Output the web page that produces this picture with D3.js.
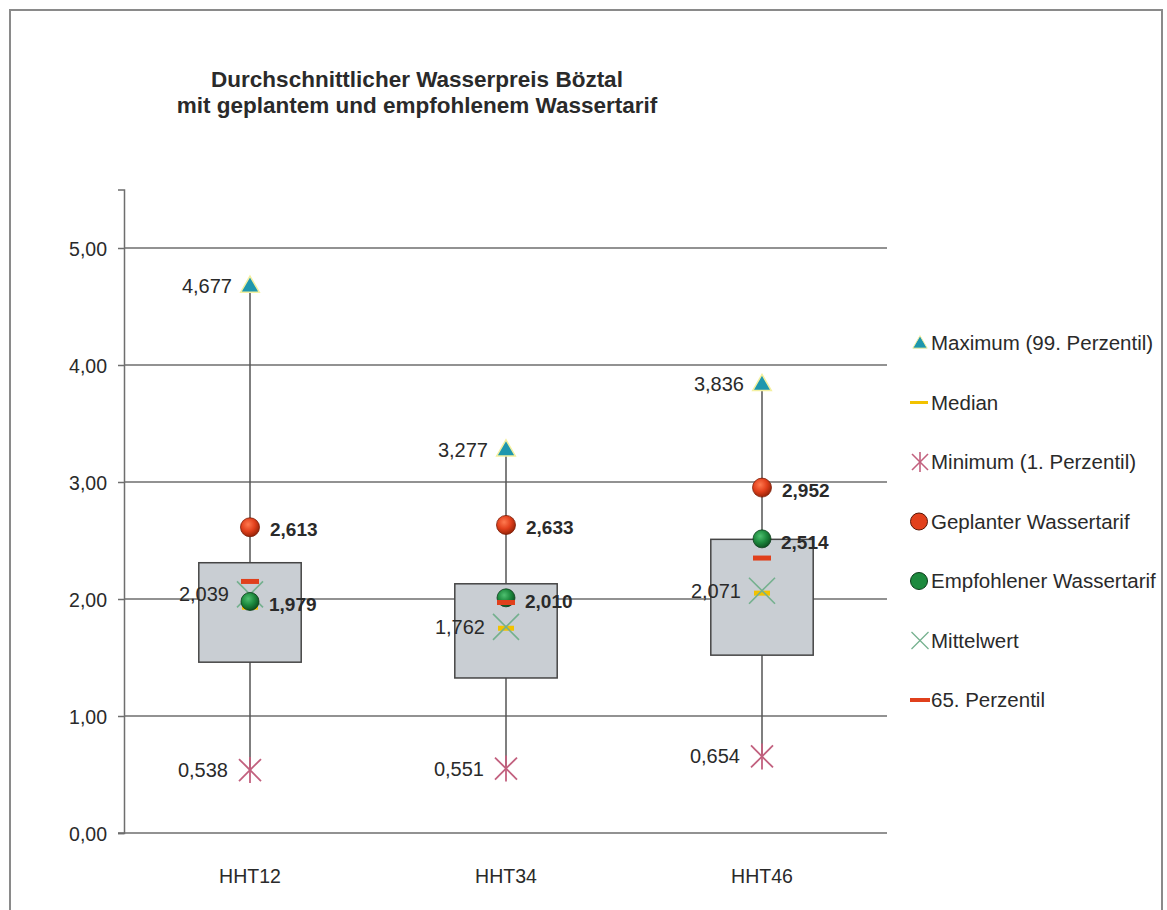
<!DOCTYPE html>
<html>
<head>
<meta charset="utf-8">
<script src="https://cdn.jsdelivr.net/npm/d3@7"></script>
<style>
  body { margin: 0; background: #fff; }
  svg { display: block; font-family: 'Liberation Sans', Arial, sans-serif; }
</style>
</head>
<body>
<div id="chart"></div>
<script>
const WIDTH  = 1167;
const HEIGHT = 910;

// Data
const categories  = ['HHT12', 'HHT34', 'HHT46'];
const maximum     = [4.677, 3.277, 3.836];
const minimum     = [0.538, 0.551, 0.654];
const quart3      = [2.31, 2.13, 2.51];
const quart1      = [1.46, 1.325, 1.52];
const median      = [1.93, 1.75, 2.05];
const mean        = [2.039, 1.762, 2.071];
const perc65      = [2.15, 1.97, 2.35];
const planned     = [2.613, 2.633, 2.952];
const recommended = [1.979, 2.010, 2.514];
const yTicks      = [0, 1, 2, 3, 4, 5];
const legendNames = [
  'Maximum (99. Perzentil)',
  'Median',
  'Minimum (1. Perzentil)',
  'Geplanter Wassertarif',
  'Empfohlener Wassertarif',
  'Mittelwert',
  '65. Perzentil'
];

const COLORS = {
  grid:    '#6e6e6e',
  box:     '#c9ced3',
  boxLine: '#454545',
  text:    '#2a2a2a',
  max:     '#1f97ae',
  median:  '#f2c200',
  min:     '#c2607e',
  planned: '#e2401c',
  recomm:  '#1d8a3e',
  mean:    '#74b08e',
  p65:     '#e0401c'
};

const FONT = "'Liberation Sans', Arial, sans-serif";
const fmt = v => d3.format('.3f')(v).replace('.', ',');
const fmtTick = v => d3.format('.2f')(v).replace('.', ',');

var svg = d3.select('#chart').append('svg')
  .attr('width', WIDTH)
  .attr('height', HEIGHT);

// Gradients for the spheres
var defs = svg.append('defs');
function sphere(id, light, base, dark) {
  let g = defs.append('radialGradient')
    .attr('id', id)
    .attr('cx', '40%').attr('cy', '35%').attr('r', '65%');
  g.append('stop').attr('offset', '0%').attr('stop-color', light);
  g.append('stop').attr('offset', '55%').attr('stop-color', base);
  g.append('stop').attr('offset', '100%').attr('stop-color', dark);
}
sphere('gPlanned', '#ff7a50', COLORS.planned, '#9a2408');
sphere('gRecomm', '#4fc070', COLORS.recomm, '#0d5322');

// Outer frame
svg.append('path')
  .attr('d', `M10,${HEIGHT} V10 H1162 V${HEIGHT}`)
  .style('fill', 'none')
  .style('stroke', '#8a8a8a')
  .style('stroke-width', 2);

// Title
let title = svg.append('text')
  .attr('text-anchor', 'middle')
  .style('font-size', '22.5px').style('font-weight', 'bold')
  .style('fill', COLORS.text);
title.append('tspan').attr('x', 417).attr('y', 87)
  .text('Durchschnittlicher Wasserpreis Böztal');
title.append('tspan').attr('x', 417).attr('y', 113)
  .text('mit geplantem und empfohlenem Wassertarif');

var x = d3.scaleBand()
  .domain(categories)
  .range([122, 890]);
var y = d3.scaleLinear()
  .domain([0, 5.5])
  .range([833, 189.5]);

// Gridlines
svg.append('g')
  .selectAll('line')
  .data(yTicks.filter(d => d > 0))
  .join('line')
    .attr('x1', 124).attr('x2', 887)
    .attr('y1', d => y(d)).attr('y2', d => y(d))
    .style('stroke', COLORS.grid)
    .style('stroke-width', 1.5);

// Y axis
var yAxis = svg.append('g')
  .attr('transform', 'translate(124,0)')
  .call(d3.axisLeft(y).tickValues(yTicks).tickSize(6).tickFormat(fmtTick));
yAxis.select('.domain').style('stroke', COLORS.grid).style('stroke-width', 1.5);
yAxis.selectAll('.tick line').style('stroke', COLORS.grid).style('stroke-width', 1.5);
yAxis.selectAll('.tick text')
  .attr('x', -17)
  .attr('dy', '0.36em')
  .style('font-size', '19.5px')
  .style('font-family', FONT)
  .style('fill', COLORS.text);

// X axis
var xAxis = svg.append('g')
  .attr('transform', 'translate(0,833)')
  .call(d3.axisBottom(x).tickSize(0).tickPadding(0));
xAxis.select('.domain')
  .attr('d', 'M118,0H887')
  .style('stroke', COLORS.grid).style('stroke-width', 1.5);
xAxis.selectAll('.tick text')
  .attr('dy', 0).attr('y', 50)
  .style('font-size', '19.5px')
  .style('font-family', FONT)
  .style('fill', COLORS.text);

const cx = i => x(categories[i]) + x.bandwidth() / 2;
const boxW = x.bandwidth() * 0.4;
const idx = d3.range(categories.length);

var plot = svg.append('g');

// Whiskers
plot.selectAll('.whisker')
  .data(idx)
  .join('line')
    .attr('x1', cx).attr('x2', cx)
    .attr('y1', i => y(minimum[i])).attr('y2', i => y(maximum[i]))
    .style('stroke', '#555')
    .style('stroke-width', 1.5);

// Boxes
plot.selectAll('.box')
  .data(idx)
  .join('rect')
    .attr('x', i => cx(i) - boxW / 2)
    .attr('width', boxW)
    .attr('y', i => y(quart3[i]))
    .attr('height', i => y(quart1[i]) - y(quart3[i]))
    .style('fill', COLORS.box)
    .style('stroke', COLORS.boxLine)
    .style('stroke-width', 1.5);

// Median
plot.selectAll('.median')
  .data(idx)
  .join('rect')
    .attr('x', i => cx(i) - 8).attr('width', 16)
    .attr('y', i => y(median[i]) - 2.5).attr('height', 5)
    .style('fill', COLORS.median);

// Mean (x mark)
function xMark(sel, size) {
  sel.append('line')
    .attr('x1', -size).attr('y1', -size).attr('x2', size).attr('y2', size);
  sel.append('line')
    .attr('x1', -size).attr('y1', size).attr('x2', size).attr('y2', -size);
}
plot.selectAll('.mean')
  .data(idx)
  .join('g')
    .attr('transform', i => `translate(${cx(i)},${y(mean[i])})`)
    .style('stroke', COLORS.mean)
    .style('stroke-width', 1.6)
    .call(xMark, 13);

// Recommended
plot.selectAll('.recomm')
  .data(idx)
  .join('circle')
    .attr('cx', cx).attr('cy', i => y(recommended[i]))
    .attr('r', 9)
    .style('fill', 'url(#gRecomm)')
    .style('stroke', '#0c3d1b').style('stroke-width', 0.8);

// 65th percentile
plot.selectAll('.p65')
  .data(idx)
  .join('rect')
    .attr('x', i => cx(i) - 9).attr('width', 18)
    .attr('y', i => y(perc65[i]) - 2.5).attr('height', 5)
    .style('fill', COLORS.p65);

// Planned
plot.selectAll('.planned')
  .data(idx)
  .join('circle')
    .attr('cx', cx).attr('cy', i => y(planned[i]))
    .attr('r', 9.5)
    .style('fill', 'url(#gPlanned)')
    .style('stroke', '#7a1d07').style('stroke-width', 0.8);

// Maximum
var tri = d3.symbol().type(d3.symbolTriangle).size(150);
plot.selectAll('.max')
  .data(idx)
  .join('path')
    .attr('d', tri)
    .attr('transform', i => `translate(${cx(i)},${y(maximum[i]) + 1})`)
    .style('fill', COLORS.max)
    .style('stroke', '#f4f0a0').style('stroke-width', 1.5);

// Minimum (asterisk)
plot.selectAll('.min')
  .data(idx)
  .join('g')
    .attr('transform', i => `translate(${cx(i)},${y(minimum[i])})`)
    .style('stroke', COLORS.min)
    .style('stroke-width', 1.8)
    .each(function() {
      let g = d3.select(this);
      xMark(g, 11);
      g.append('line').attr('x1', 0).attr('x2', 0).attr('y1', -13).attr('y2', 13);
    });

// Value labels
function labels(values, dx, anchor, bold, dy) {
  plot.append('g')
    .selectAll('text')
    .data(idx)
    .join('text')
      .attr('x', i => cx(i) + dx)
      .attr('y', i => y(values[i]) + dy)
      .attr('text-anchor', anchor)
      .style('font-size', bold ? '19px' : '20px')
      .style('font-weight', bold ? 'bold' : 'normal')
      .style('fill', COLORS.text)
      .text(i => fmt(values[i]));
}
labels(maximum, -18, 'end', false, 7);
labels(minimum, -22, 'end', false, 7);
labels(mean, -21, 'end', false, 7);
labels(planned, 20, 'start', true, 9);
labels(recommended, 19, 'start', true, 10);

// Legend
var legend = svg.append('g')
  .attr('transform', 'translate(920,0)');
var legendY = d3.scalePoint()
  .domain(legendNames)
  .range([343, 700]);
var items = legend.selectAll('.item')
  .data(legendNames)
  .join('g')
    .attr('transform', d => `translate(0,${legendY(d)})`);

items.append('text')
  .attr('x', 11).attr('y', 7)
  .style('font-size', '20.5px')
  .style('fill', COLORS.text)
  .text(d => d);

items.each(function(d, i) {
  let g = d3.select(this);
  if (i === 0) {
    g.append('path')
      .attr('d', d3.symbol().type(d3.symbolTriangle).size(90))
      .attr('transform', 'translate(0,1)')
      .style('fill', COLORS.max)
      .style('stroke', '#f4f0a0').style('stroke-width', 1);
  } else if (i === 1) {
    g.append('rect').attr('x', -10).attr('y', -1.5).attr('width', 18).attr('height', 3)
      .style('fill', COLORS.median);
  } else if (i === 2) {
    let m = g.append('g').style('stroke', COLORS.min).style('stroke-width', 1.6);
    xMark(m, 8);
    m.append('line').attr('x1', 0).attr('x2', 0).attr('y1', -10).attr('y2', 10);
  } else if (i === 3) {
    g.append('circle').attr('r', 8.5).attr('cx', -1)
      .style('fill', COLORS.planned).style('stroke', '#5a1505').style('stroke-width', 1);
  } else if (i === 4) {
    g.append('circle').attr('r', 8.5).attr('cx', -1)
      .style('fill', COLORS.recomm).style('stroke', '#0c3d1b').style('stroke-width', 1);
  } else if (i === 5) {
    let m = g.append('g').style('stroke', COLORS.mean).style('stroke-width', 1.3);
    xMark(m, 8.5);
  } else {
    g.append('rect').attr('x', -10).attr('y', -2).attr('width', 20).attr('height', 4)
      .style('fill', COLORS.p65);
  }
});
</script>
</body>
</html>
